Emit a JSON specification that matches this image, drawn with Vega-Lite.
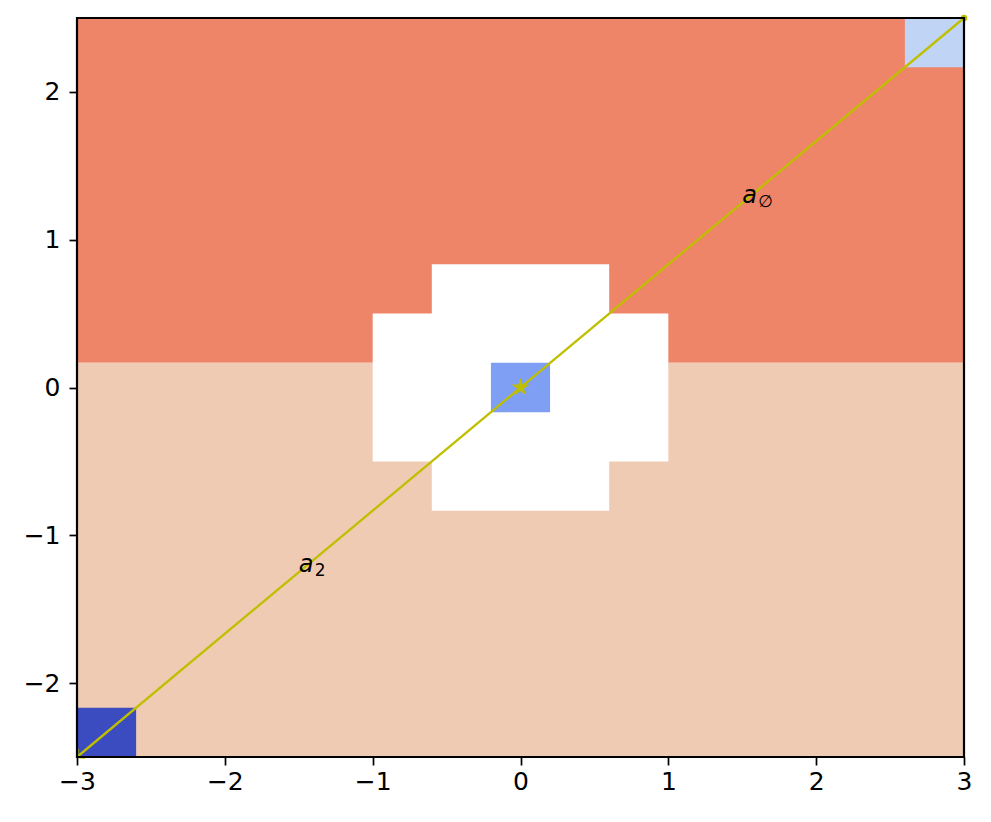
{
  "$schema": "https://vega.github.io/schema/vega-lite/v6.json",
  "width": 887,
  "height": 739,
  "autosize": {"type": "none"},
  "padding": {"left": 77, "top": 18, "right": 27, "bottom": 65},
  "background": "white",
  "config": {"view": {"stroke": null}, "font": "DejaVu Sans", "axis": {"labelFontSize": 25, "labelFont": "DejaVu Sans"}},
  "layer": [
    {
      "data": {"values": [
        {"x0": -3, "x1": 3, "y0": 0.16667, "y1": 2.5, "level": "0.8"},
        {"x0": -3, "x1": 3, "y0": -2.5, "y1": 0.16667, "level": "0.6"},
        {"x0": -0.6, "x1": 0.6, "y0": -0.83333, "y1": 0.83333, "level": "NaN"},
        {"x0": -1, "x1": 1, "y0": -0.5, "y1": 0.5, "level": "NaN"},
        {"x0": -0.2, "x1": 0.2, "y0": -0.16667, "y1": 0.16667, "level": "0.2"},
        {"x0": 2.6, "x1": 3, "y0": 2.16667, "y1": 2.5, "level": "0.4"},
        {"x0": -3, "x1": -2.6, "y0": -2.5, "y1": -2.16667, "level": "0.0"}
      ]},
      "mark": {"type": "rect", "strokeWidth": 0},
      "encoding": {
        "x": {"field": "x0", "type": "quantitative",
          "scale": {"domain": [-3, 3], "nice": false, "zero": false},
          "axis": {"values": [-3, -2, -1, 0, 1, 2, 3], "format": "d", "title": null, "grid": false, "domain": false,
            "tickColor": "black", "tickSize": 8, "tickWidth": 1.7, "labelFontSize": 25,
            "labelColor": "black", "labelPadding": 4, "zindex": 1, "labelFlush": false, "labelOverlap": false, "labelFont": "DejaVu Sans"}},
        "x2": {"field": "x1"},
        "y": {"field": "y0", "type": "quantitative",
          "scale": {"domain": [-2.5, 2.5], "nice": false, "zero": false},
          "axis": {"values": [-2, -1, 0, 1, 2], "format": "d", "title": null, "grid": false, "domain": false,
            "tickColor": "black", "tickSize": 8, "tickWidth": 1.7, "labelFontSize": 25,
            "labelColor": "black", "labelPadding": 9, "zindex": 1, "labelFlush": false, "labelOverlap": false, "labelFont": "DejaVu Sans"}},
        "y2": {"field": "y1"},
        "color": {"field": "level", "type": "nominal",
          "scale": {"domain": ["0.0", "0.2", "0.4", "0.6", "0.8", "NaN"],
                    "range": ["#3b4cc0", "#7f9ff4", "#c0d4f5", "#f0cbb4", "#ee8468", "#ffffff"]},
          "legend": null}
      }
    },
    {
      "data": {"values": [{"x": -3, "y": -2.5}, {"x": 3, "y": 2.5}]},
      "mark": {"type": "line", "color": "#bfbf00", "strokeWidth": 2.3},
      "encoding": {
        "x": {"field": "x", "type": "quantitative"},
        "y": {"field": "y", "type": "quantitative"}
      }
    },
    {
      "data": {"values": [{"x": -3, "y": -2.5}]},
      "mark": {"type": "point", "shape": "M1,-1L0,0L1,1", "filled": false, "stroke": "#bfbf00", "strokeWidth": 2.3, "size": 130, "angle": 320, "opacity": 1},
      "encoding": {
        "x": {"field": "x", "type": "quantitative"},
        "y": {"field": "y", "type": "quantitative"}
      }
    },
    {
      "data": {"values": [{"x": 3, "y": 2.5}]},
      "mark": {"type": "point", "shape": "circle", "filled": true, "color": "#bfbf00", "size": 45, "opacity": 1},
      "encoding": {
        "x": {"field": "x", "type": "quantitative"},
        "y": {"field": "y", "type": "quantitative"}
      }
    },
    {
      "data": {"values": [{"x": 0, "y": 0}]},
      "mark": {"type": "point", "shape": "M0,-1L0.2245,-0.309L0.951,-0.309L0.363,0.118L0.588,0.809L0,0.382L-0.588,0.809L-0.363,0.118L-0.951,-0.309L-0.2245,-0.309Z", "filled": true, "color": "#bfbf00", "size": 360, "opacity": 1},
      "encoding": {
        "x": {"field": "x", "type": "quantitative"},
        "y": {"field": "y", "type": "quantitative"}
      }
    },
    {
      "data": {"values": [
        {"x": 1.5, "y": 1.25, "main": "a", "sub": "∅"},
        {"x": -1.5, "y": -1.25, "main": "a", "sub": "2"}
      ]},
      "layer": [
        {
          "mark": {"type": "text", "align": "left", "baseline": "alphabetic", "fontSize": 24, "fontStyle": "italic", "font": "DejaVu Sans", "color": "black"},
          "encoding": {
            "x": {"field": "x", "type": "quantitative"},
            "y": {"field": "y", "type": "quantitative"},
            "text": {"field": "main"}
          }
        },
        {
          "mark": {"type": "text", "align": "left", "baseline": "alphabetic", "fontSize": 17, "font": "DejaVu Sans", "color": "black", "dx": 16, "dy": 4},
          "encoding": {
            "x": {"field": "x", "type": "quantitative"},
            "y": {"field": "y", "type": "quantitative"},
            "text": {"field": "sub"}
          }
        }
      ]
    },
    {
      "data": {"values": [{"frame": "plot"}]},
      "mark": {"type": "rect", "fill": null, "fillOpacity": 0, "stroke": "black", "strokeWidth": 2.2},
      "encoding": {
        "x": {"datum": -3, "type": "quantitative"},
        "x2": {"datum": 3},
        "y": {"datum": -2.5, "type": "quantitative"},
        "y2": {"datum": 2.5}
      }
    }
  ]
}
